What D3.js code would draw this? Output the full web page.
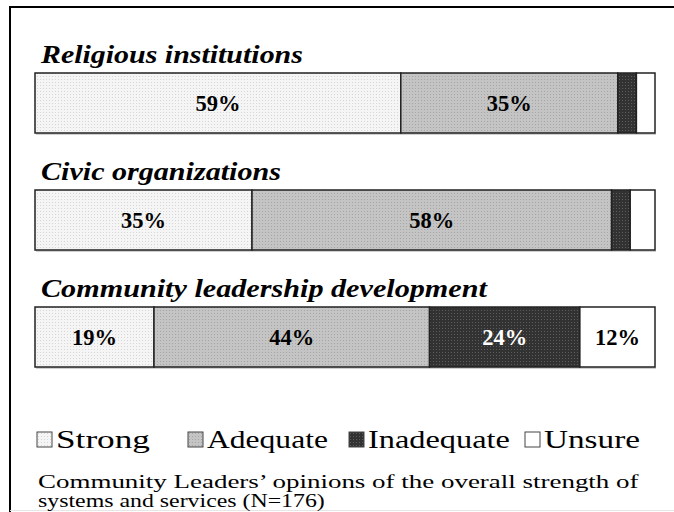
<!DOCTYPE html>
<html>
<head>
<meta charset="utf-8">
<script src="https://d3js.org/d3.v7.min.js"></script>
<style>
  body { margin: 0; background: #fff; }
  svg { display: block; font-family: "Liberation Serif", "Times New Roman", serif; }
</style>
</head>
<body>
<div id="chart"></div>
<script>
const categories = ["Religious institutions", "Civic organizations", "Community leadership development"];
const levels = ["Strong", "Adequate", "Inadequate", "Unsure"];
const strong = [59, 35, 19];
const adequate = [35, 58, 44];
const inadequate = [3, 3, 24];
const unsure = [3, 4, 12];
const showLabel = [[true, true, false, false], [true, true, false, false], [true, true, true, true]];
const caption = ["Community Leaders\u2019 opinions of the overall strength of", "systems and services (N=176)"];

const width = 674, height = 512;
const svg = d3.select("#chart").append("svg").attr("width", width).attr("height", height);

const titleLen = [262, 240, 446];
const legendLen = [94, 121, 142, 96];
const captionLen = [601, 287];

// stretch a text horizontally to a width, keeping glyph shapes
function stretch(sel, px, py, len) {
  sel.each(function(d, i) {
    const t = d3.select(this);
    const w = this.getComputedTextLength();
    const k = w > 0 ? len(d, i) / w : 1;
    t.attr("x", 0).attr("y", 0)
     .attr("transform", `translate(${px(d, i)},${py(d, i)}) scale(${k},1)`);
  });
}

// fill patterns (dotted look)
const defs = svg.append("defs");
const pat = [
  {id: "p0", base: "#f5f5f5", dot: "#d6d6d6"},
  {id: "p1", base: "#c4c4c4", dot: "#a6a6a6"},
  {id: "p2", base: "#323232", dot: "#5c5c5c"},
  {id: "p3", base: "#ffffff", dot: "#ffffff"}
];
pat.forEach(p => {
  const g = defs.append("pattern").attr("id", p.id).attr("patternUnits", "userSpaceOnUse")
    .attr("width", 3).attr("height", 3);
  g.append("rect").attr("width", 3).attr("height", 3).attr("fill", p.base);
  g.append("rect").attr("x", 1).attr("y", 1).attr("width", 1).attr("height", 1).attr("fill", p.dot);
});

// frame
svg.append("line").attr("x1", 9).attr("x2", width).attr("y1", 7).attr("y2", 7).attr("stroke", "#000").attr("stroke-width", 2);
svg.append("line").attr("x1", 10).attr("x2", 10).attr("y1", 6).attr("y2", height).attr("stroke", "#000").attr("stroke-width", 2);
svg.append("line").attr("x1", 10).attr("x2", width).attr("y1", 510.5).attr("y2", 510.5).attr("stroke", "#e6e6e6");

const table = categories.map((c, i) => ({
  cat: c, Strong: strong[i], Adequate: adequate[i], Inadequate: inadequate[i], Unsure: unsure[i]
}));
const stack = d3.stack().keys(levels).offset(d3.stackOffsetExpand)(table);

const x = d3.scaleLinear().domain([0, 1]).range([35, 655]);
const y = d3.scaleBand().domain(categories).range([73, 424]);
const barH = 60;

// titles
svg.selectAll("text.title").data(categories).join("text")
  .attr("class", "title")
  .attr("font-size", 25).attr("font-weight", "bold").attr("font-style", "italic")
  .text(d => d)
  .call(stretch, () => 41, d => y(d) - 10, (d, i) => titleLen[i]);

// shadow under bars
svg.selectAll("rect.shadow").data(categories).join("rect")
  .attr("class", "shadow")
  .attr("x", x(0) + 1).attr("y", d => y(d) + barH).attr("width", x(1) - x(0))
  .attr("height", 2).attr("fill", "#d0d0d0");

const layer = svg.selectAll("g.layer").data(stack).join("g").attr("class", "layer");
layer.selectAll("rect").data((s, k) => s.map(d => ({d, k}))).join("rect")
  .attr("x", o => x(o.d[0]))
  .attr("y", o => y(o.d.data.cat))
  .attr("width", o => x(o.d[1]) - x(o.d[0]))
  .attr("height", barH)
  .attr("fill", o => `url(#p${o.k})`)
  .attr("stroke", "#222").attr("stroke-width", 1.5);

layer.selectAll("text").data((s, k) => s.map((d, i) => ({d, k, i})).filter(o => showLabel[o.i][o.k]))
  .join("text")
  .attr("text-anchor", "middle")
  .attr("font-size", 23).attr("font-weight", "bold")
  .attr("fill", o => o.k === 2 ? "#fff" : "#000")
  .text(o => o.d.data[levels[o.k]] + "%")
  .call(stretch, o => (x(o.d[0]) + x(o.d[1])) / 2, o => y(o.d.data.cat) + barH / 2 + 8, () => 45);

// legend
const legendX = [37, 188, 349, 525];
const lg = svg.selectAll("g.legend").data(levels).join("g").attr("class", "legend")
  .attr("transform", (d, i) => `translate(${legendX[i]},432)`);
lg.append("rect").attr("width", 15).attr("height", 15)
  .attr("fill", (d, i) => `url(#p${i})`).attr("stroke", "#444").attr("stroke-width", 1);
lg.append("text").attr("font-size", 26)
  .text(d => d)
  .call(stretch, () => 19, () => 16, (d, i) => legendLen[i]);

// caption
svg.selectAll("text.caption").data(caption).join("text")
  .attr("class", "caption")
  .attr("font-size", 18.5)
  .text(d => d)
  .call(stretch, () => 38, (d, i) => 488 + i * 19, (d, i) => captionLen[i]);
</script>
</body>
</html>
